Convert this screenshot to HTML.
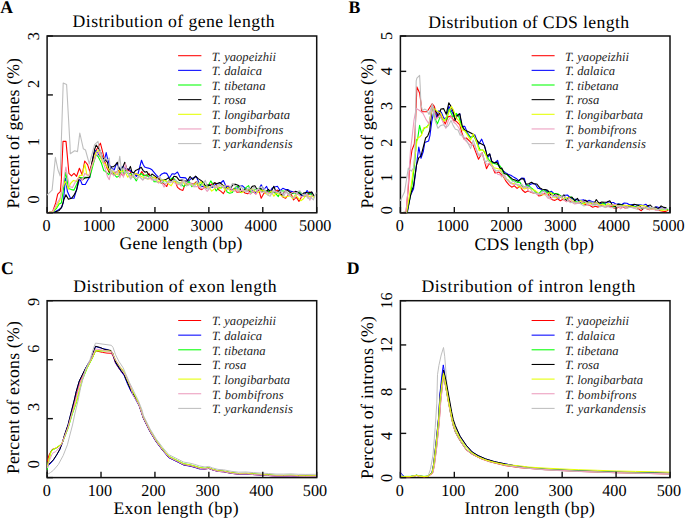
<!DOCTYPE html><html><head><meta charset="utf-8"><style>html,body{margin:0;padding:0;background:#fff;}svg{display:block}text{font-family:"Liberation Serif",serif;text-rendering:geometricPrecision;}</style></head><body>
<svg width="685" height="519" viewBox="0 0 685 519">
<rect width="685" height="519" fill="#fff"/>
<text x="0.2" y="12.7" font-size="17.7" font-weight="bold">A</text>
<text x="348.4" y="12.6" font-size="17.7" font-weight="bold">B</text>
<text x="1.0" y="273.8" font-size="17.7" font-weight="bold">C</text>
<text x="346.8" y="273.5" font-size="17.7" font-weight="bold">D</text>
<text x="72.6" y="27.4" font-size="17.7" textLength="202.00000000000003" lengthAdjust="spacing">Distribution of gene length</text>
<text x="428.2" y="27.6" font-size="17.7" textLength="200.8" lengthAdjust="spacing">Distribution of CDS length</text>
<text x="73.2" y="292.4" font-size="17.7" textLength="203.40000000000003" lengthAdjust="spacing">Distribution of exon length</text>
<text x="421.4" y="292.2" font-size="17.7" textLength="214.0" lengthAdjust="spacing">Distribution of intron length</text>
<text x="119.6" y="248.9" font-size="17.7" textLength="122.80000000000001" lengthAdjust="spacing">Gene length (bp)</text>
<text x="474.6" y="249.5" font-size="17.7" textLength="119.29999999999995" lengthAdjust="spacing">CDS length (bp)</text>
<text x="113.4" y="514.1" font-size="17.7" textLength="125.19999999999999" lengthAdjust="spacing">Exon length (bp)</text>
<text x="464.4" y="514.1" font-size="17.7" textLength="130.5" lengthAdjust="spacing">Intron length (bp)</text>
<text transform="translate(19.3,208.6) rotate(-90)" font-size="17.7" textLength="150.6" lengthAdjust="spacing">Percent of genes (%)</text>
<text transform="translate(373,208.4) rotate(-90)" font-size="17.7" textLength="150.3" lengthAdjust="spacing">Percent of genes (%)</text>
<text transform="translate(19.1,474.0) rotate(-90)" font-size="17.7" textLength="152.8" lengthAdjust="spacing">Percent of exons (%)</text>
<text transform="translate(373,479.0) rotate(-90)" font-size="17.7" textLength="163.0" lengthAdjust="spacing">Percent of introns (%)</text>
<rect x="47.1" y="36" width="269.59999999999997" height="176.8" fill="none" stroke="#111" stroke-width="1.5"/>
<rect x="400.4" y="36" width="269.6" height="176.8" fill="none" stroke="#111" stroke-width="1.5"/>
<rect x="47.1" y="300.7" width="269.59999999999997" height="176.90000000000003" fill="none" stroke="#111" stroke-width="1.5"/>
<rect x="400.4" y="300.7" width="269.6" height="176.90000000000003" fill="none" stroke="#111" stroke-width="1.5"/>
<clipPath id="clipA"><rect x="46.7" y="35.6" width="270.4" height="177.60000000000002"/></clipPath>
<g clip-path="url(#clipA)" fill="none" stroke-width="1.1" stroke-linejoin="round">
<polyline points="47.0,212.8 52.6,211.8 55.7,202.9 57.7,194.2 60.3,191.6 61.3,180.4 63.0,141.4 66.0,141.4 68.9,173.3 71.5,175.8 74.0,173.3 76.6,176.3 79.4,168.2 82.2,174.8 84.7,161.0 87.6,164.6 89.8,171.6 93.7,155.3 96.6,149.5 100.4,143.2 103.3,154.3 105.0,162.3 107.0,168.0 109.0,172.0 111.0,173.5 113.0,174.0 115.0,172.5 117.3,171.6 118.6,170.4 120.4,173.5 123.5,175.9 125.4,170.0 127.8,170.4 130.0,171.0 132.0,176.0 134.5,174.0 136.3,173.5 139.0,176.5 141.8,171.6 144.0,175.0 146.8,175.9 149.0,173.5 151.7,179.0 153.2,177.2 155.9,178.3 158.6,177.5 161.3,183.2 164.0,183.7 166.7,186.5 169.4,180.1 172.1,179.3 174.8,180.3 177.5,187.4 180.2,189.5 182.9,190.4 185.6,182.9 188.3,184.8 191.0,183.3 193.7,184.2 196.4,181.7 199.1,188.4 201.8,189.7 204.5,187.4 207.2,184.9 209.9,185.5 212.6,183.5 215.3,183.0 218.0,189.3 220.7,191.1 223.4,193.6 226.1,188.7 228.8,188.4 231.5,190.2 234.2,188.5 236.9,192.3 239.6,191.9 242.3,190.4 245.0,193.0 247.7,193.8 250.4,190.5 253.1,191.5 255.8,193.9 258.5,188.8 261.2,198.3 263.9,193.2 266.6,191.7 269.3,191.4 272.0,191.7 274.7,192.4 277.4,190.0 280.1,193.4 282.8,196.9 285.5,198.3 288.2,195.0 290.9,193.4 293.6,200.0 296.3,197.1 299.0,201.4 301.7,196.4 304.4,195.8 307.1,196.2 309.8,191.9 312.5,194.7" stroke="#ff0000"/>
<polyline points="47.0,212.8 54.1,212.3 58.2,210.0 61.3,208.0 63.3,202.9 65.4,178.4 67.4,191.6 70.5,198.3 74.0,198.3 76.6,189.6 79.7,178.4 82.2,184.5 85.3,184.5 88.4,179.0 89.8,177.4 93.7,154.3 95.6,150.4 98.5,154.3 101.4,158.1 104.3,161.0 106.2,152.5 107.5,158.6 109.5,165.0 111.2,167.3 113.0,169.1 114.3,169.8 115.8,165.4 117.3,163.0 118.6,167.3 120.1,169.8 121.7,167.3 122.9,166.7 124.8,168.5 127.8,169.1 129.5,169.8 132.0,172.0 134.4,173.5 136.3,176.5 138.1,173.5 140.0,166.0 141.5,160.2 143.0,164.2 144.6,167.0 147.4,167.9 149.8,168.5 152.0,169.8 155.9,174.7 158.6,177.4 161.3,174.3 164.0,172.9 166.7,173.4 169.4,178.0 172.1,173.7 174.8,174.1 177.5,172.0 180.2,177.5 182.9,177.6 185.6,177.9 188.3,181.4 191.0,178.7 193.7,177.7 196.4,176.8 199.1,183.2 201.8,186.7 204.5,185.8 207.2,185.2 209.9,185.1 212.6,187.4 215.3,184.5 218.0,183.3 220.7,183.0 223.4,180.5 226.1,186.6 228.8,186.3 231.5,189.5 234.2,189.3 236.9,188.4 239.6,186.4 242.3,185.7 245.0,188.2 247.7,189.7 250.4,189.1 253.1,191.0 255.8,192.9 258.5,189.7 261.2,184.8 263.9,189.5 266.6,186.4 269.3,193.1 272.0,188.3 274.7,187.0 277.4,186.3 280.1,190.6 282.8,188.3 285.5,189.6 288.2,189.6 290.9,191.4 293.6,191.7 296.3,193.5 299.0,191.3 301.7,195.9 304.4,194.8 307.1,190.5 309.8,194.3 312.5,192.3" stroke="#0000ff"/>
<polyline points="47.0,212.8 53.1,211.8 56.7,208.0 59.2,203.9 61.3,202.9 63.3,190.6 65.6,172.2 66.9,178.4 68.4,188.6 71.5,189.6 74.0,190.1 76.6,184.5 79.7,177.3 82.2,177.9 85.0,177.4 89.8,177.4 93.0,165.0 96.1,154.3 98.5,157.2 101.4,163.0 103.8,170.7 105.0,171.0 108.7,174.7 111.2,170.4 113.6,174.1 116.7,177.2 119.2,175.9 121.7,167.9 123.5,173.5 125.5,170.5 127.8,173.5 130.7,173.5 132.5,175.5 134.4,177.8 136.3,180.9 138.7,176.0 141.2,173.5 143.7,175.9 146.5,174.7 148.6,177.2 150.5,175.5 152.0,177.0 154.1,181.8 156.8,181.8 159.5,182.4 162.2,182.9 164.9,180.0 167.6,182.5 170.3,179.5 173.0,177.5 175.7,180.6 178.4,182.4 181.1,183.9 183.8,186.7 186.5,184.0 189.2,181.5 191.9,186.7 194.6,184.2 197.3,182.1 200.0,185.8 202.7,182.1 205.4,185.9 208.1,185.9 210.8,180.9 213.5,185.4 216.2,191.0 218.9,187.4 221.6,187.9 224.3,185.8 227.0,191.9 229.7,193.3 232.4,192.5 235.1,187.6 237.8,186.0 240.5,192.5 243.2,190.2 245.9,187.6 248.6,185.6 251.3,193.3 254.0,190.3 256.7,188.9 259.4,188.4 262.1,191.6 264.8,191.1 267.5,190.6 270.2,192.2 272.9,192.2 275.6,193.3 278.3,196.6 281.0,190.9 283.7,191.0 286.4,191.8 289.1,194.2 291.8,193.7 294.5,192.7 297.2,194.1 299.9,192.0 302.6,194.7 305.3,196.4 308.0,193.6 310.7,193.7 313.4,196.4" stroke="#00ff00"/>
<polyline points="47.0,212.8 54.6,212.3 59.2,210.5 61.8,206.9 63.8,199.8 65.9,194.7 68.4,199.3 71.5,198.3 74.0,195.2 76.6,190.1 79.1,177.3 82.2,179.9 85.3,177.9 89.3,177.4 91.8,163.9 94.6,149.5 96.1,145.1 98.0,147.5 100.4,151.4 102.8,158.1 105.0,159.3 107.5,162.3 109.3,172.2 111.2,166.7 113.6,166.7 115.5,164.8 117.3,162.3 119.2,168.5 120.4,170.4 122.3,168.5 124.8,162.3 126.6,168.5 128.5,170.0 130.4,166.4 131.9,172.2 133.8,172.8 135.6,170.4 138.7,169.1 141.2,167.3 143.0,170.4 144.9,172.2 146.8,171.6 148.6,174.7 150.5,175.9 152.0,174.0 155.0,176.1 157.7,178.3 160.4,180.1 163.1,180.4 165.8,179.6 168.5,177.7 171.2,181.5 173.9,176.3 176.6,176.9 179.3,180.4 182.0,180.1 184.7,181.1 187.4,180.9 190.1,176.5 192.8,179.7 195.5,176.1 198.2,178.6 200.9,180.4 203.6,182.7 206.3,188.0 209.0,184.8 211.7,187.0 214.4,182.8 217.1,183.8 219.8,182.5 222.5,184.9 225.2,188.1 227.9,187.3 230.6,187.9 233.3,184.3 236.0,184.4 238.7,185.5 241.4,191.6 244.1,189.3 246.8,190.8 249.5,190.8 252.2,186.4 254.9,185.7 257.6,190.4 260.3,187.9 263.0,190.9 265.7,192.3 268.4,189.4 271.1,192.1 273.8,186.3 276.5,193.2 279.2,190.4 281.9,195.4 284.6,191.7 287.3,190.0 290.0,192.4 292.7,193.0 295.4,191.4 298.1,192.0 300.8,195.1 303.5,193.1 306.2,192.5 308.9,193.0 311.6,191.9 314.3,196.2" stroke="#000000"/>
<polyline points="47.0,212.8 53.0,211.8 57.0,206.0 60.0,200.0 62.3,187.6 65.4,181.4 68.4,189.1 70.5,183.5 73.5,180.4 76.6,181.4 79.7,175.3 82.2,175.5 84.8,164.1 86.9,174.7 88.9,175.5 92.7,163.9 96.1,151.9 98.5,150.4 100.4,157.2 103.0,163.0 105.0,163.6 108.1,168.5 109.5,171.0 111.2,170.4 114.9,173.5 117.3,174.7 119.2,170.4 121.7,172.2 124.0,169.8 127.8,177.2 129.7,174.7 132.0,177.5 135.0,173.5 138.0,174.7 140.6,176.0 143.0,177.2 145.5,178.4 148.6,179.0 152.0,178.0 155.0,177.3 157.7,181.9 160.4,179.8 163.1,180.1 165.8,180.8 168.5,183.9 171.2,185.8 173.9,180.7 176.6,182.9 179.3,183.8 182.0,181.4 184.7,184.2 187.4,184.1 190.1,184.0 192.8,185.7 195.5,183.4 198.2,185.3 200.9,181.7 203.6,185.4 206.3,187.4 209.0,187.0 211.7,191.1 214.4,189.0 217.1,185.5 219.8,188.8 222.5,185.5 225.2,190.4 227.9,187.1 230.6,191.7 233.3,189.7 236.0,189.7 238.7,189.4 241.4,192.7 244.1,191.6 246.8,189.4 249.5,190.2 252.2,189.0 254.9,191.1 257.6,192.7 260.3,190.5 263.0,190.0 265.7,193.6 268.4,194.2 271.1,191.0 273.8,196.3 276.5,192.8 279.2,194.4 281.9,196.1 284.6,197.3 287.3,196.5 290.0,195.7 292.7,198.6 295.4,194.6 298.1,197.8 300.8,200.7 303.5,198.8 306.2,195.0 308.9,196.4 311.6,196.1 314.3,197.5" stroke="#e5ff00"/>
<polyline points="47.0,212.8 52.6,211.8 56.2,204.9 60.3,197.8 63.0,185.0 65.9,167.1 67.4,176.3 69.4,186.5 72.5,187.6 75.6,181.4 79.0,178.0 82.2,180.4 84.8,173.3 87.0,175.0 89.0,176.0 92.0,165.0 96.6,154.3 99.5,151.4 102.4,159.1 105.0,167.9 107.5,176.5 109.3,179.6 111.2,170.4 113.6,175.9 115.5,174.5 117.3,171.0 119.8,177.8 121.7,172.2 123.5,177.2 125.4,163.6 127.2,171.0 129.5,175.0 130.7,179.0 133.0,175.0 136.5,179.0 139.0,176.0 142.5,180.0 145.0,177.5 148.0,179.0 150.0,178.0 152.0,180.0 155.9,179.9 158.6,183.1 161.3,181.8 164.0,187.1 166.7,182.5 169.4,181.1 172.1,182.0 174.8,182.9 177.5,184.8 180.2,183.9 182.9,180.8 185.6,182.3 188.3,184.1 191.0,183.6 193.7,186.8 196.4,186.5 199.1,186.7 201.8,188.8 204.5,187.8 207.2,191.3 209.9,188.2 212.6,185.4 215.3,188.0 218.0,186.9 220.7,185.0 223.4,187.8 226.1,185.5 228.8,185.5 231.5,190.0 234.2,191.1 236.9,190.7 239.6,190.9 242.3,190.4 245.0,190.6 247.7,191.1 250.4,194.3 253.1,190.9 255.8,194.5 258.5,188.5 261.2,192.4 263.9,191.8 266.6,191.9 269.3,193.6 272.0,194.0 274.7,190.5 277.4,192.5 280.1,193.0 282.8,194.0 285.5,190.8 288.2,195.3 290.9,193.3 293.6,192.0 296.3,193.0 299.0,195.0 301.7,196.9 304.4,195.4 307.1,194.1 309.8,200.2 312.5,194.7" stroke="#ec9cbe"/>
<polyline points="47.0,195.2 52.1,190.1 55.4,157.3 58.0,170.0 60.2,176.0 61.2,145.0 63.2,83.1 66.6,84.5 70.0,145.0 70.3,153.7 74.6,150.8 77.5,151.6 79.8,133.0 83.3,148.7 85.5,150.0 89.3,163.9 94.6,144.6 98.0,141.3 99.0,146.6 101.4,154.3 103.3,162.0 105.0,158.0 107.2,160.0 109.3,158.0 110.6,174.7 112.4,169.1 114.5,172.0 117.3,172.2 119.8,156.2 121.4,170.4 123.5,167.9 125.4,173.5 127.0,171.0 129.0,176.0 130.7,179.0 133.0,174.0 135.0,178.0 137.0,179.0 139.0,176.0 141.0,178.0 143.0,180.0 145.0,177.0 147.5,179.0 150.0,176.0 152.0,178.0 154.1,180.3 156.8,179.6 159.5,176.2 162.2,180.8 164.9,183.7 167.6,182.1 170.3,182.8 173.0,180.8 175.7,180.1 178.4,182.8 181.1,186.2 183.8,179.8 186.5,186.0 189.2,184.7 191.9,183.7 194.6,186.6 197.3,181.0 200.0,187.1 202.7,184.7 205.4,180.4 208.1,189.7 210.8,186.4 213.5,185.2 216.2,187.4 218.9,184.3 221.6,186.5 224.3,186.2 227.0,190.0 229.7,188.7 232.4,183.4 235.1,185.6 237.8,190.5 240.5,186.1 243.2,189.2 245.9,192.4 248.6,187.4 251.3,191.0 254.0,187.1 256.7,190.1 259.4,187.8 262.1,186.4 264.8,189.7 267.5,194.9 270.2,196.2 272.9,190.8 275.6,192.0 278.3,192.5 281.0,190.8 283.7,196.3 286.4,190.9 289.1,195.0 291.8,197.1 294.5,198.1 297.2,192.2 299.9,190.8 302.6,194.5 305.3,194.6 308.0,198.4 310.7,197.4 313.4,199.8 316.1,192.6" stroke="#bebebe"/>
</g>
<clipPath id="clipB"><rect x="400.0" y="35.6" width="270.40000000000003" height="177.60000000000002"/></clipPath>
<g clip-path="url(#clipB)" fill="none" stroke-width="1.1" stroke-linejoin="round">
<polyline points="400.3,212.8 406.0,212.8 408.3,187.6 409.8,165.1 412.0,150.0 414.3,144.0 415.0,135.0 416.9,86.9 419.6,92.9 420.9,102.4 421.6,111.8 425.0,111.8 427.0,111.8 432.2,103.8 434.4,106.4 437.0,117.8 439.6,113.4 442.0,118.0 445.3,123.9 448.0,116.9 451.0,116.0 453.6,120.4 456.3,121.3 459.8,124.8 462.0,133.0 464.0,139.0 466.4,138.0 470.6,142.2 473.2,145.4 478.5,159.2 482.2,152.8 486.5,168.7 489.1,163.4 492.0,166.0 495.0,173.0 499.0,172.0 500.9,174.1 503.6,176.9 506.3,181.7 509.0,184.9 511.7,187.2 514.4,185.8 517.1,188.4 519.8,186.2 522.5,190.3 525.2,192.5 527.9,190.9 530.6,192.1 533.3,192.9 536.0,192.7 538.7,195.9 541.4,195.4 544.1,193.8 546.8,191.7 549.5,196.4 552.2,199.7 554.9,200.4 557.6,198.7 560.3,200.7 563.0,199.2 565.7,201.0 568.4,200.4 571.1,202.2 573.8,201.7 576.5,203.5 579.2,202.8 581.9,202.3 584.6,204.4 587.3,204.8 590.0,205.5 592.7,207.2 595.4,206.3 598.1,207.1 600.8,205.7 603.5,206.2 606.2,206.8 608.9,206.2 611.6,206.3 614.3,208.2 617.0,208.0 619.7,206.5 622.4,207.1 625.1,208.0 627.8,207.7 630.5,206.2 633.2,207.3 635.9,206.4 638.6,209.0 641.3,210.7 644.0,207.7 646.7,208.7 649.4,209.7 652.1,208.7 654.8,208.7 657.5,209.8 660.2,210.6 662.9,211.2 665.6,211.6 668.3,210.1" stroke="#ff0000"/>
<polyline points="400.3,212.8 407.5,212.0 410.5,195.2 413.5,189.1 416.5,165.1 418.8,147.0 421.0,158.3 423.3,151.5 424.8,142.5 428.6,141.0 430.0,135.3 431.8,121.3 433.9,110.8 436.6,116.9 438.8,110.8 441.4,112.5 444.0,118.6 446.6,117.8 448.8,106.4 451.9,111.6 454.1,116.0 457.1,115.1 459.8,113.8 461.6,126.4 464.8,126.4 467.4,132.7 470.6,137.5 474.8,134.8 478.5,144.4 481.7,139.1 485.4,148.6 487.5,158.1 489.7,153.9 491.8,162.4 494.5,163.0 497.6,160.3 499.7,167.7 500.0,167.7 502.7,170.4 505.4,172.7 508.1,174.3 510.8,175.3 513.5,176.9 516.2,178.4 518.9,180.8 521.6,178.1 524.3,178.4 527.0,188.1 529.7,184.7 532.4,183.5 535.1,183.7 537.8,188.2 540.5,188.9 543.2,191.6 545.9,189.9 548.6,192.7 551.3,191.2 554.0,193.6 556.7,197.4 559.4,197.9 562.1,196.0 564.8,195.2 567.5,195.0 570.2,197.8 572.9,199.1 575.6,199.4 578.3,200.2 581.0,200.2 583.7,199.8 586.4,201.7 589.1,200.2 591.8,201.6 594.5,202.2 597.2,203.3 599.9,203.2 602.6,203.9 605.3,203.2 608.0,201.7 610.7,202.2 613.4,202.5 616.1,204.2 618.8,203.7 621.5,204.8 624.2,203.0 626.9,203.3 629.6,204.8 632.3,204.5 635.0,206.8 637.7,205.1 640.4,204.8 643.1,205.5 645.8,204.2 648.5,206.8 651.2,208.0 653.9,207.7 656.6,206.8 659.3,207.8 662.0,207.6 664.7,208.8 667.4,209.2" stroke="#0000ff"/>
<polyline points="400.3,212.8 407.0,212.3 409.5,200.0 412.0,185.0 414.5,165.0 416.5,139.5 417.5,140.0 419.6,125.3 421.6,133.4 424.3,128.0 427.0,126.7 429.0,124.0 430.0,118.6 432.4,105.1 434.4,116.9 437.4,123.9 440.1,116.9 443.6,120.4 446.6,119.5 449.3,109.0 452.8,116.9 456.3,113.4 458.9,116.9 462.0,127.0 466.4,132.7 470.6,138.0 474.0,136.0 477.0,143.0 480.1,149.7 483.0,150.0 486.0,155.0 489.0,160.0 492.0,163.0 496.0,164.0 499.7,165.6 500.9,167.4 503.6,173.2 506.3,174.0 509.0,176.9 511.7,180.0 514.4,180.7 517.1,182.4 519.8,182.1 522.5,186.6 525.2,187.1 527.9,184.8 530.6,187.5 533.3,189.5 536.0,192.7 538.7,193.8 541.4,190.9 544.1,189.8 546.8,192.6 549.5,192.1 552.2,193.5 554.9,193.5 557.6,193.7 560.3,195.4 563.0,198.7 565.7,199.7 568.4,197.8 571.1,196.9 573.8,199.2 576.5,202.1 579.2,202.0 581.9,203.4 584.6,202.4 587.3,203.3 590.0,202.0 592.7,204.9 595.4,204.3 598.1,203.6 600.8,205.0 603.5,202.8 606.2,205.4 608.9,205.2 611.6,205.0 614.3,207.4 617.0,204.5 619.7,204.2 622.4,205.3 625.1,206.5 627.8,206.8 630.5,205.8 633.2,206.3 635.9,206.9 638.6,205.3 641.3,208.3 644.0,207.2 646.7,208.4 649.4,208.7 652.1,207.4 654.8,208.7 657.5,209.8 660.2,208.9 662.9,209.0 665.6,209.7 668.3,209.4" stroke="#00ff00"/>
<polyline points="400.3,212.8 406.8,213.3 409.0,202.7 411.3,192.1 413.5,186.1 416.5,165.1 418.8,157.6 421.0,156.0 424.1,144.0 425.6,138.0 427.8,135.8 429.7,130.7 432.2,106.4 435.3,109.9 438.3,116.9 440.9,109.0 443.6,108.6 446.2,114.3 448.8,102.9 451.0,106.4 453.2,111.6 455.0,120.4 457.1,116.0 459.8,113.8 462.4,126.5 464.8,130.1 468.5,131.7 473.2,134.3 475.9,139.1 479.1,142.8 484.4,145.4 487.0,156.0 489.7,153.9 491.8,161.3 494.4,162.9 497.1,162.4 500.3,168.7 501.8,168.0 504.5,173.8 507.2,174.3 509.9,176.9 512.6,179.2 515.3,180.0 518.0,181.2 520.7,179.0 523.4,178.7 526.1,184.2 528.8,183.7 531.5,182.3 534.2,184.0 536.9,184.0 539.6,187.6 542.3,189.3 545.0,189.5 547.7,190.3 550.4,194.4 553.1,195.9 555.8,194.0 558.5,195.0 561.2,197.1 563.9,194.9 566.6,200.8 569.3,197.2 572.0,197.2 574.7,200.8 577.4,198.3 580.1,203.0 582.8,201.7 585.5,200.3 588.2,202.3 590.9,202.3 593.6,204.2 596.3,199.6 599.0,203.3 601.7,202.0 604.4,202.3 607.1,202.0 609.8,200.8 612.5,205.3 615.2,206.5 617.9,204.4 620.6,204.7 623.3,205.0 626.0,206.3 628.7,205.4 631.4,205.8 634.1,204.3 636.8,204.7 639.5,205.8 642.2,208.9 644.9,207.9 647.6,205.7 650.3,205.0 653.0,208.1 655.7,207.1 658.4,208.9 661.1,205.9 663.8,207.4 666.5,207.9" stroke="#000000"/>
<polyline points="400.3,212.8 406.8,212.0 409.0,198.2 411.3,184.6 413.5,168.0 415.8,150.0 417.3,138.2 419.6,137.0 421.6,135.0 423.6,128.0 427.0,127.4 429.0,124.0 432.4,107.5 434.5,109.0 437.9,111.6 440.5,113.0 444.0,121.3 447.0,116.0 451.5,106.4 453.5,110.0 456.3,117.8 459.0,121.0 462.4,130.0 465.0,131.0 470.6,140.1 473.2,133.8 476.0,140.0 479.1,150.7 482.2,149.7 485.0,152.0 487.5,160.3 490.7,162.4 493.9,167.7 498.1,168.7 500.0,169.3 502.7,174.6 505.4,178.9 508.1,179.7 510.8,183.2 513.5,183.6 516.2,184.2 518.9,186.9 521.6,187.6 524.3,188.9 527.0,188.1 529.7,188.2 532.4,189.8 535.1,190.3 537.8,192.7 540.5,194.7 543.2,194.8 545.9,194.6 548.6,192.9 551.3,193.1 554.0,197.5 556.7,198.0 559.4,195.5 562.1,198.4 564.8,198.4 567.5,197.4 570.2,198.7 572.9,201.6 575.6,202.7 578.3,202.7 581.0,200.6 583.7,204.2 586.4,202.9 589.1,203.6 591.8,203.8 594.5,202.9 597.2,203.0 599.9,204.7 602.6,204.2 605.3,206.9 608.0,203.4 610.7,205.3 613.4,205.3 616.1,205.4 618.8,206.1 621.5,206.2 624.2,205.4 626.9,205.6 629.6,205.6 632.3,206.6 635.0,207.4 637.7,207.9 640.4,205.4 643.1,205.7 645.8,206.3 648.5,208.6 651.2,209.4 653.9,208.8 656.6,209.4 659.3,209.7 662.0,210.5 664.7,209.9 667.4,210.1" stroke="#e5ff00"/>
<polyline points="400.3,212.8 406.0,212.8 407.5,195.2 409.0,172.6 410.5,150.0 412.0,138.0 414.0,120.0 416.2,108.5 419.6,110.5 422.9,113.2 426.3,119.9 429.0,124.0 432.4,105.1 434.5,112.0 436.1,119.5 439.6,115.0 442.0,120.0 445.8,128.3 448.5,120.0 451.0,116.5 453.6,122.0 456.0,124.0 459.0,128.0 462.0,136.0 465.0,140.0 470.0,145.0 474.0,144.0 478.0,155.0 482.0,153.0 486.0,164.0 490.0,164.0 495.0,171.0 497.7,174.2 500.4,175.1 501.8,176.8 504.5,174.9 507.2,180.0 509.9,183.0 512.6,184.2 515.3,184.5 518.0,184.4 520.7,185.9 523.4,188.0 526.1,186.4 528.8,190.9 531.5,192.3 534.2,192.3 536.9,194.2 539.6,194.9 542.3,193.6 545.0,194.2 547.7,198.0 550.4,199.1 553.1,196.6 555.8,194.7 558.5,196.2 561.2,197.2 563.9,199.8 566.6,201.8 569.3,197.8 572.0,202.2 574.7,204.0 577.4,203.4 580.1,203.4 582.8,201.7 585.5,201.8 588.2,204.9 590.9,205.0 593.6,204.0 596.3,203.4 599.0,205.5 601.7,206.3 604.4,206.9 607.1,205.5 609.8,205.8 612.5,205.0 615.2,204.2 617.9,205.9 620.6,208.9 623.3,207.0 626.0,206.0 628.7,207.2 631.4,207.2 634.1,208.1 636.8,207.0 639.5,207.3 642.2,207.2 644.9,207.5 647.6,208.9 650.3,209.4 653.0,208.8 655.7,210.4 658.4,210.3 661.1,208.2 663.8,208.8 666.5,210.3" stroke="#ec9cbe"/>
<polyline points="400.3,201.0 404.5,192.1 408.3,168.1 411.3,171.1 413.5,168.1 415.0,150.0 416.2,80.8 416.9,78.1 419.6,75.4 420.2,86.2 420.9,103.7 422.3,110.5 425.0,109.1 427.0,110.5 429.0,114.5 432.4,103.7 434.4,118.6 437.9,128.3 440.5,125.6 443.6,124.8 446.2,127.4 448.4,125.6 451.0,120.4 453.2,125.6 455.4,129.2 458.0,130.0 460.2,135.3 462.1,134.8 465.8,139.1 470.6,148.6 473.2,140.1 476.0,148.0 479.1,156.0 482.0,154.0 485.4,162.4 488.0,160.0 491.0,165.0 496.0,170.8 498.7,170.5 500.0,171.0 502.7,174.4 505.4,178.7 508.1,180.2 510.8,183.2 513.5,180.9 516.2,184.3 518.9,185.5 521.6,184.2 524.3,187.1 527.0,186.7 529.7,187.3 532.4,192.0 535.1,193.5 537.8,193.4 540.5,194.2 543.2,190.9 545.9,192.8 548.6,197.4 551.3,195.2 554.0,196.7 556.7,195.9 559.4,197.7 562.1,195.7 564.8,196.8 567.5,200.0 570.2,202.6 572.9,201.9 575.6,203.0 578.3,202.0 581.0,204.0 583.7,205.9 586.4,205.2 589.1,202.3 591.8,202.1 594.5,205.2 597.2,204.7 599.9,207.1 602.6,206.0 605.3,207.6 608.0,206.6 610.7,207.7 613.4,207.7 616.1,207.7 618.8,206.3 621.5,205.9 624.2,206.8 626.9,208.3 629.6,207.3 632.3,207.7 635.0,208.6 637.7,209.5 640.4,207.9 643.1,208.2 645.8,208.4 648.5,208.0 651.2,207.3 653.9,207.8 656.6,209.1 659.3,209.6 662.0,207.7 664.7,209.5 667.4,208.6" stroke="#bebebe"/>
</g>
<clipPath id="clipC"><rect x="46.7" y="300.3" width="270.4" height="177.70000000000005"/></clipPath>
<g clip-path="url(#clipC)" fill="none" stroke-width="1.0" stroke-linejoin="round">
<polyline points="47.3,461.5 49.0,455.0 52.0,449.5 55.0,448.5 58.0,447.0 62.0,443.3 68.1,427.0 74.3,403.0 79.3,384.0 85.4,370.0 92.4,357.8 95.5,350.8 102.4,352.4 107.0,353.1 111.4,353.3 113.0,355.9 115.6,363.3 119.8,369.7 124.1,375.0 127.3,382.4 131.0,390.9 133.6,395.0 139.1,405.4 143.4,418.1 149.7,430.9 156.1,441.5 162.5,450.0 168.8,457.4 177.3,461.6 183.7,464.8 190.0,465.9 194.3,467.0 199.3,468.6 205.0,469.0 208.7,468.4 212.4,469.9 218.0,471.4 223.6,471.8 231.1,473.3 238.6,474.2 246.1,474.0 253.6,474.6 261.0,475.1 268.5,475.5 276.0,476.1 283.5,476.1 291.0,475.9 298.4,476.3 305.9,476.4 316.5,476.3" stroke="#ff0000"/>
<polyline points="47.3,466.2 50.0,464.0 53.3,460.3 56.6,455.2 59.9,449.4 62.4,442.8 64.5,435.3 68.1,424.5 71.2,412.0 74.3,400.0 76.2,391.5 79.3,381.0 85.4,368.6 91.6,357.8 95.5,346.5 102.4,348.5 107.0,349.5 111.0,351.0 113.0,355.0 115.6,363.0 119.8,369.5 124.1,375.5 127.3,383.5 131.0,391.5 133.6,396.0 139.1,405.7 143.4,418.4 149.7,431.2 156.1,441.8 162.5,450.3 168.8,457.7 177.3,461.9 183.7,465.1 190.0,466.2 194.3,467.3 199.3,468.9 205.0,469.0 208.7,468.4 212.4,469.9 218.0,471.4 223.6,471.8 231.1,473.3 238.6,474.2 246.1,474.0 253.6,474.6 261.0,475.1 268.5,475.5 276.0,476.1 283.5,476.1 291.0,475.9 298.4,476.3 305.9,476.4 316.5,476.3" stroke="#0000ff"/>
<polyline points="47.3,469.8 48.5,462.0 50.5,453.0 52.0,450.0 55.8,448.3 59.1,445.8 62.4,442.8 68.0,428.5 72.0,415.0 76.2,403.0 82.3,380.0 87.0,368.5 92.4,358.0 95.5,350.8 100.9,350.8 107.0,350.8 110.9,350.8 112.6,353.0 115.6,360.8 119.8,367.5 123.6,372.0 126.2,378.5 129.4,385.5 132.6,392.0 135.5,397.5 139.1,404.3 143.4,417.0 149.7,429.8 156.1,440.4 162.5,448.9 168.8,456.3 177.3,460.5 183.7,463.7 190.0,464.8 194.3,465.9 199.3,467.5 205.0,468.3 208.7,467.7 212.4,469.2 218.0,470.7 223.6,471.1 231.1,472.6 238.6,473.5 246.1,473.3 253.6,473.9 261.0,474.4 268.5,474.8 276.0,475.4 283.5,475.4 291.0,475.2 298.4,475.6 305.9,475.7 316.5,475.6" stroke="#00ff00"/>
<polyline points="47.3,465.0 50.0,463.2 53.3,459.9 56.6,454.9 59.9,449.1 62.4,442.5 64.5,435.0 68.1,424.7 71.2,412.3 74.3,400.0 76.2,391.7 79.3,380.9 85.4,368.6 91.6,357.8 95.5,346.2 100.9,347.7 104.0,349.3 111.0,350.5 113.0,354.0 115.6,362.0 119.8,368.8 124.1,374.5 127.3,382.0 131.0,390.4 133.6,394.8 139.1,405.2 143.4,417.9 149.7,430.7 156.1,441.3 162.5,449.8 168.8,457.2 177.3,461.4 183.7,464.6 190.0,465.7 194.3,466.8 199.3,468.4 205.0,468.6 208.7,468.0 212.4,469.5 218.0,471.0 223.6,471.4 231.1,472.9 238.6,473.8 246.1,473.6 253.6,474.2 261.0,474.7 268.5,475.1 276.0,475.7 283.5,475.7 291.0,475.5 298.4,475.9 305.9,476.0 316.5,475.9" stroke="#000000"/>
<polyline points="47.3,466.5 49.0,459.0 51.0,452.0 53.0,449.5 55.8,448.0 59.1,445.8 62.0,443.3 68.0,428.0 72.0,414.0 76.2,402.5 82.3,379.4 87.0,368.0 92.4,357.8 95.5,350.8 100.9,350.8 107.0,350.8 110.8,351.1 112.4,352.7 115.6,360.1 119.8,366.5 123.6,370.8 126.2,377.1 129.4,384.5 132.6,390.9 136.0,397.5 139.1,404.4 143.4,417.1 149.7,429.9 156.1,440.5 162.5,449.0 168.8,456.4 177.3,460.6 183.7,463.8 190.0,464.9 194.3,466.0 199.3,467.6 205.0,468.3 208.7,467.7 212.4,469.2 218.0,470.7 223.6,471.1 231.1,472.6 238.6,473.5 246.1,473.3 253.6,473.9 261.0,474.4 268.5,474.8 276.0,475.4 283.5,475.4 291.0,475.2 298.4,475.6 305.9,475.7 316.5,475.6" stroke="#e5ff00"/>
<polyline points="47.3,468.0 50.0,459.0 52.5,453.2 55.8,451.6 59.0,448.0 62.0,443.5 64.0,438.0 68.0,427.0 74.0,406.0 80.0,383.0 86.0,369.0 92.0,357.0 95.5,349.0 102.0,350.0 108.0,351.0 112.0,352.0 115.0,359.0 120.0,367.0 126.0,376.5 130.0,385.0 132.7,394.5 139.1,405.2 143.4,417.9 149.7,430.7 156.1,441.3 162.5,449.8 168.8,457.2 177.3,461.4 183.7,464.6 190.0,465.7 194.3,466.8 199.3,468.4 205.0,468.9 208.7,468.3 212.4,469.8 218.0,471.3 223.6,471.7 231.1,473.2 238.6,474.1 246.1,473.9 253.6,474.5 261.0,475.0 268.5,475.4 276.0,476.0 283.5,476.0 291.0,475.8 298.4,476.2 305.9,476.3 316.5,476.2" stroke="#ec9cbe"/>
<polyline points="47.3,474.5 50.5,472.5 53.3,470.4 58.3,464.6 63.2,455.5 67.4,444.8 69.9,435.0 72.5,425.0 74.8,414.0 78.2,400.0 80.5,388.0 85.4,370.0 90.1,359.3 93.9,347.0 95.5,343.1 111.4,345.3 113.0,347.4 115.6,354.8 118.8,361.2 123.0,367.6 126.2,375.0 129.4,382.4 132.6,388.8 135.0,394.0 138.5,401.0 142.0,410.0 143.4,415.4 149.7,428.2 156.1,438.8 162.5,447.3 168.8,454.7 177.3,458.9 183.7,462.1 190.0,463.2 194.3,464.3 199.3,465.9 205.0,467.0 208.7,466.4 212.4,467.9 218.0,469.4 223.6,469.8 231.1,471.3 238.6,472.2 246.1,472.0 253.6,472.6 261.0,473.1 268.5,473.5 276.0,474.1 283.5,474.1 291.0,473.9 298.4,474.3 305.9,474.4 316.5,474.3" stroke="#bebebe"/>
</g>
<clipPath id="clipD"><rect x="400.0" y="300.3" width="270.40000000000003" height="177.70000000000005"/></clipPath>
<g clip-path="url(#clipD)" fill="none" stroke-width="1.0" stroke-linejoin="round">
<polyline points="400.3,476.6 410.0,476.6 413.0,476.2 416.6,475.3 420.0,476.2 424.0,476.6 428.0,476.3 432.0,472.7 433.6,464.6 436.0,443.5 438.5,419.3 440.0,395.0 441.8,381.0 443.5,370.0" stroke="#000000"/>
<polyline points="505.2,463.9 517.2,466.2 529.2,467.7 545.0,469.2 559.1,469.9 578.2,470.8 597.4,471.4 616.5,472.1 635.6,472.5 654.7,472.9 669.5,473.3" stroke="#000000"/>
<polyline points="400.3,472.5 402.0,474.5 404.5,476.7 410.0,476.6 413.0,476.2 416.6,475.3 420.0,476.2 424.0,476.6 428.0,476.3 432.0,472.5 433.6,464.0 436.0,443.0 438.5,418.0 440.0,393.0 441.8,376.0 443.3,364.9 445.3,378.0 447.3,390.0 449.4,402.0 451.0,411.0 452.7,419.5 454.8,425.6 460.0,436.1 466.1,445.1 472.1,451.9 478.1,455.6 485.6,458.9 494.6,461.7 505.2,463.9 517.2,466.2 529.2,467.7 545.0,469.2 559.1,469.9 578.2,470.8 597.4,471.4 616.5,472.1 635.6,472.5 654.7,472.9 669.5,473.3" stroke="#0000ff"/>
<polyline points="400.3,476.8 410.0,476.8 413.0,476.4 416.6,475.5 420.0,476.4 424.0,476.8 428.0,476.5 432.6,473.2 434.2,466.2 436.6,447.2 439.1,423.2 440.6,402.2 442.4,385.2 443.5,374.9 445.0,383.2 446.8,393.2 448.6,403.2 450.5,413.2 452.0,420.2 453.2,425.7 455.4,432.4 460.0,440.8 466.1,449.8 472.1,454.3 481.1,458.8 490.1,461.9 505.2,465.6 520.0,467.7 545.0,469.7 578.0,471.4 616.0,472.7 669.5,474.0" stroke="#ff0000"/>
<polyline points="400.3,476.4 410.0,476.4 413.0,476.0 416.6,475.1 420.0,476.0 424.0,476.4 428.0,476.1 432.4,472.8 434.0,465.8 436.4,446.8 438.9,422.8 440.4,401.8 442.2,384.8 443.5,374.5 445.0,382.8 446.8,392.8 448.6,402.8 450.5,412.8 452.0,419.8 453.2,425.3 455.4,432.0 460.0,440.4 466.1,449.4 472.1,453.9 481.1,458.4 490.1,461.5 505.2,465.2 520.0,467.3 545.0,469.3 578.0,471.0 616.0,472.3 669.5,473.6" stroke="#00ff00"/>
<polyline points="400.3,476.6 410.0,476.6 413.0,476.2 416.6,475.3 420.0,476.2 424.0,476.6 428.0,476.3 430.4,469.4 433.0,455.0 435.2,427.4 436.8,403.1 437.5,374.7 438.9,365.4 441.2,355.0 443.5,347.5 444.7,356.2 445.8,370.1 447.0,386.2 448.5,400.0 450.5,410.0 452.7,419.0 455.4,428.0 460.0,437.0 466.1,445.8 472.1,452.6 478.1,456.3 485.6,459.6 494.6,462.4 505.2,464.6 517.2,466.9 529.2,468.4 545.0,469.9 559.1,470.6 578.2,471.5 597.4,472.1 616.5,472.8 635.6,473.2 654.7,473.6 669.5,474.0" stroke="#bebebe"/>
<polyline points="443.5,370.0 446.1,381.0 448.1,392.0 450.1,403.0 451.6,411.5 453.3,419.5 455.4,425.6 460.0,436.1 466.1,445.1 472.1,451.9 478.1,455.6 485.6,458.9 494.6,461.7 505.2,463.9" stroke="#000000"/>
<polyline points="400.3,476.6 410.0,476.6 413.0,476.2 416.6,475.3 420.0,476.2 424.0,476.6 428.0,476.3 432.8,473.0 434.4,466.0 436.8,447.0 439.3,423.0 440.8,402.0 442.6,385.0 443.5,374.7 445.0,383.0 446.8,393.0 448.6,403.0 450.5,413.0 452.0,420.0 453.2,425.5 455.4,432.2 460.0,440.6 466.1,449.6 472.1,454.1 481.1,458.6 490.1,461.7 505.2,465.4 520.0,467.5 545.0,469.5 578.0,471.2 616.0,472.5 669.5,473.8" stroke="#ec9cbe"/>
<polyline points="400.3,476.6 410.0,476.6 413.0,476.2 416.6,475.3 420.0,476.2 424.0,476.6 428.0,476.3 432.0,472.8 433.6,465.0 436.0,445.0 438.5,421.0 440.0,399.0 441.8,384.0 443.5,373.5 445.3,382.0 447.2,392.5 449.0,403.0 450.8,412.0 452.4,420.5 455.4,429.5 460.0,438.5 466.1,447.5 472.1,453.0 478.0,456.8 486.0,460.0 495.0,462.5 505.2,464.6 517.2,465.6 529.2,467.1 545.0,468.1 559.1,468.8 578.2,469.7 597.4,470.3 616.5,471.0 635.6,471.4 654.7,471.8 669.5,472.2" stroke="#e5ff00"/>
</g>
<line x1="178.1" y1="55.70" x2="201.4" y2="55.70" stroke="#ff0000" stroke-width="1.05"/>
<text x="211.8" y="60.50" font-size="12.6" font-style="italic" letter-spacing="0" fill="#222">T. yaopeizhii</text>
<line x1="178.1" y1="70.35" x2="201.4" y2="70.35" stroke="#0000ff" stroke-width="1.05"/>
<text x="211.8" y="75.15" font-size="12.6" font-style="italic" letter-spacing="0" fill="#222">T. dalaica</text>
<line x1="178.1" y1="85.00" x2="201.4" y2="85.00" stroke="#00ff00" stroke-width="1.05"/>
<text x="211.8" y="89.80" font-size="12.6" font-style="italic" letter-spacing="0" fill="#222">T. tibetana</text>
<line x1="178.1" y1="99.65" x2="201.4" y2="99.65" stroke="#000000" stroke-width="1.05"/>
<text x="211.8" y="104.45" font-size="12.6" font-style="italic" letter-spacing="0" fill="#222">T. rosa</text>
<line x1="178.1" y1="114.30" x2="201.4" y2="114.30" stroke="#e5ff00" stroke-width="1.05"/>
<text x="211.8" y="119.10" font-size="12.6" font-style="italic" letter-spacing="0" fill="#222">T. longibarbata</text>
<line x1="178.1" y1="128.95" x2="201.4" y2="128.95" stroke="#ec9cbe" stroke-width="1.05"/>
<text x="211.8" y="133.75" font-size="12.6" font-style="italic" letter-spacing="0.2" fill="#222">T. bombifrons</text>
<line x1="178.1" y1="143.60" x2="201.4" y2="143.60" stroke="#bebebe" stroke-width="1.05"/>
<text x="211.8" y="148.40" font-size="12.6" font-style="italic" letter-spacing="0.15" fill="#222">T. yarkandensis</text>
<line x1="531.6" y1="55.70" x2="554.6" y2="55.70" stroke="#ff0000" stroke-width="1.05"/>
<text x="564.9" y="60.50" font-size="12.6" font-style="italic" letter-spacing="0" fill="#222">T. yaopeizhii</text>
<line x1="531.6" y1="70.35" x2="554.6" y2="70.35" stroke="#0000ff" stroke-width="1.05"/>
<text x="564.9" y="75.15" font-size="12.6" font-style="italic" letter-spacing="0" fill="#222">T. dalaica</text>
<line x1="531.6" y1="85.00" x2="554.6" y2="85.00" stroke="#00ff00" stroke-width="1.05"/>
<text x="564.9" y="89.80" font-size="12.6" font-style="italic" letter-spacing="0" fill="#222">T. tibetana</text>
<line x1="531.6" y1="99.65" x2="554.6" y2="99.65" stroke="#000000" stroke-width="1.05"/>
<text x="564.9" y="104.45" font-size="12.6" font-style="italic" letter-spacing="0" fill="#222">T. rosa</text>
<line x1="531.6" y1="114.30" x2="554.6" y2="114.30" stroke="#e5ff00" stroke-width="1.05"/>
<text x="564.9" y="119.10" font-size="12.6" font-style="italic" letter-spacing="0" fill="#222">T. longibarbata</text>
<line x1="531.6" y1="128.95" x2="554.6" y2="128.95" stroke="#ec9cbe" stroke-width="1.05"/>
<text x="564.9" y="133.75" font-size="12.6" font-style="italic" letter-spacing="0.2" fill="#222">T. bombifrons</text>
<line x1="531.6" y1="143.60" x2="554.6" y2="143.60" stroke="#bebebe" stroke-width="1.05"/>
<text x="564.9" y="148.40" font-size="12.6" font-style="italic" letter-spacing="0.15" fill="#222">T. yarkandensis</text>
<line x1="178.2" y1="320.50" x2="201.2" y2="320.50" stroke="#ff0000" stroke-width="1.05"/>
<text x="211.9" y="325.30" font-size="12.6" font-style="italic" letter-spacing="0" fill="#222">T. yaopeizhii</text>
<line x1="178.2" y1="335.15" x2="201.2" y2="335.15" stroke="#0000ff" stroke-width="1.05"/>
<text x="211.9" y="339.95" font-size="12.6" font-style="italic" letter-spacing="0" fill="#222">T. dalaica</text>
<line x1="178.2" y1="349.80" x2="201.2" y2="349.80" stroke="#00ff00" stroke-width="1.05"/>
<text x="211.9" y="354.60" font-size="12.6" font-style="italic" letter-spacing="0" fill="#222">T. tibetana</text>
<line x1="178.2" y1="364.45" x2="201.2" y2="364.45" stroke="#000000" stroke-width="1.05"/>
<text x="211.9" y="369.25" font-size="12.6" font-style="italic" letter-spacing="0" fill="#222">T. rosa</text>
<line x1="178.2" y1="379.10" x2="201.2" y2="379.10" stroke="#e5ff00" stroke-width="1.05"/>
<text x="211.9" y="383.90" font-size="12.6" font-style="italic" letter-spacing="0" fill="#222">T. longibarbata</text>
<line x1="178.2" y1="393.75" x2="201.2" y2="393.75" stroke="#ec9cbe" stroke-width="1.05"/>
<text x="211.9" y="398.55" font-size="12.6" font-style="italic" letter-spacing="0.2" fill="#222">T. bombifrons</text>
<line x1="178.2" y1="408.40" x2="201.2" y2="408.40" stroke="#bebebe" stroke-width="1.05"/>
<text x="211.9" y="413.20" font-size="12.6" font-style="italic" letter-spacing="0.15" fill="#222">T. yarkandensis</text>
<line x1="531.6" y1="320.50" x2="554.6" y2="320.50" stroke="#ff0000" stroke-width="1.05"/>
<text x="564.9" y="325.30" font-size="12.6" font-style="italic" letter-spacing="0" fill="#222">T. yaopeizhii</text>
<line x1="531.6" y1="335.15" x2="554.6" y2="335.15" stroke="#0000ff" stroke-width="1.05"/>
<text x="564.9" y="339.95" font-size="12.6" font-style="italic" letter-spacing="0" fill="#222">T. dalaica</text>
<line x1="531.6" y1="349.80" x2="554.6" y2="349.80" stroke="#00ff00" stroke-width="1.05"/>
<text x="564.9" y="354.60" font-size="12.6" font-style="italic" letter-spacing="0" fill="#222">T. tibetana</text>
<line x1="531.6" y1="364.45" x2="554.6" y2="364.45" stroke="#000000" stroke-width="1.05"/>
<text x="564.9" y="369.25" font-size="12.6" font-style="italic" letter-spacing="0" fill="#222">T. rosa</text>
<line x1="531.6" y1="379.10" x2="554.6" y2="379.10" stroke="#e5ff00" stroke-width="1.05"/>
<text x="564.9" y="383.90" font-size="12.6" font-style="italic" letter-spacing="0" fill="#222">T. longibarbata</text>
<line x1="531.6" y1="393.75" x2="554.6" y2="393.75" stroke="#ec9cbe" stroke-width="1.05"/>
<text x="564.9" y="398.55" font-size="12.6" font-style="italic" letter-spacing="0.2" fill="#222">T. bombifrons</text>
<line x1="531.6" y1="408.40" x2="554.6" y2="408.40" stroke="#bebebe" stroke-width="1.05"/>
<text x="564.9" y="413.20" font-size="12.6" font-style="italic" letter-spacing="0.15" fill="#222">T. yarkandensis</text>
<line x1="47.10" y1="212.8" x2="47.10" y2="207.0" stroke="#111" stroke-width="1.4"/>
<line x1="101.02" y1="212.8" x2="101.02" y2="207.0" stroke="#111" stroke-width="1.4"/>
<line x1="154.94" y1="212.8" x2="154.94" y2="207.0" stroke="#111" stroke-width="1.4"/>
<line x1="208.86" y1="212.8" x2="208.86" y2="207.0" stroke="#111" stroke-width="1.4"/>
<line x1="262.78" y1="212.8" x2="262.78" y2="207.0" stroke="#111" stroke-width="1.4"/>
<line x1="316.70" y1="212.8" x2="316.70" y2="207.0" stroke="#111" stroke-width="1.4"/>
<line x1="47.1" y1="212.80" x2="52.9" y2="212.80" stroke="#111" stroke-width="1.4"/>
<line x1="47.1" y1="153.87" x2="52.9" y2="153.87" stroke="#111" stroke-width="1.4"/>
<line x1="47.1" y1="94.93" x2="52.9" y2="94.93" stroke="#111" stroke-width="1.4"/>
<line x1="47.1" y1="36.00" x2="52.9" y2="36.00" stroke="#111" stroke-width="1.4"/>
<line x1="400.40" y1="212.8" x2="400.40" y2="207.0" stroke="#111" stroke-width="1.4"/>
<line x1="454.32" y1="212.8" x2="454.32" y2="207.0" stroke="#111" stroke-width="1.4"/>
<line x1="508.24" y1="212.8" x2="508.24" y2="207.0" stroke="#111" stroke-width="1.4"/>
<line x1="562.16" y1="212.8" x2="562.16" y2="207.0" stroke="#111" stroke-width="1.4"/>
<line x1="616.08" y1="212.8" x2="616.08" y2="207.0" stroke="#111" stroke-width="1.4"/>
<line x1="670.00" y1="212.8" x2="670.00" y2="207.0" stroke="#111" stroke-width="1.4"/>
<line x1="400.4" y1="212.80" x2="406.2" y2="212.80" stroke="#111" stroke-width="1.4"/>
<line x1="400.4" y1="177.44" x2="406.2" y2="177.44" stroke="#111" stroke-width="1.4"/>
<line x1="400.4" y1="142.08" x2="406.2" y2="142.08" stroke="#111" stroke-width="1.4"/>
<line x1="400.4" y1="106.72" x2="406.2" y2="106.72" stroke="#111" stroke-width="1.4"/>
<line x1="400.4" y1="71.36" x2="406.2" y2="71.36" stroke="#111" stroke-width="1.4"/>
<line x1="400.4" y1="36.00" x2="406.2" y2="36.00" stroke="#111" stroke-width="1.4"/>
<line x1="47.10" y1="477.6" x2="47.10" y2="471.8" stroke="#111" stroke-width="1.4"/>
<line x1="101.02" y1="477.6" x2="101.02" y2="471.8" stroke="#111" stroke-width="1.4"/>
<line x1="154.94" y1="477.6" x2="154.94" y2="471.8" stroke="#111" stroke-width="1.4"/>
<line x1="208.86" y1="477.6" x2="208.86" y2="471.8" stroke="#111" stroke-width="1.4"/>
<line x1="262.78" y1="477.6" x2="262.78" y2="471.8" stroke="#111" stroke-width="1.4"/>
<line x1="316.70" y1="477.6" x2="316.70" y2="471.8" stroke="#111" stroke-width="1.4"/>
<line x1="47.1" y1="477.60" x2="52.9" y2="477.60" stroke="#111" stroke-width="1.4"/>
<line x1="47.1" y1="418.63" x2="52.9" y2="418.63" stroke="#111" stroke-width="1.4"/>
<line x1="47.1" y1="359.67" x2="52.9" y2="359.67" stroke="#111" stroke-width="1.4"/>
<line x1="47.1" y1="300.70" x2="52.9" y2="300.70" stroke="#111" stroke-width="1.4"/>
<line x1="400.40" y1="477.6" x2="400.40" y2="471.8" stroke="#111" stroke-width="1.4"/>
<line x1="454.32" y1="477.6" x2="454.32" y2="471.8" stroke="#111" stroke-width="1.4"/>
<line x1="508.24" y1="477.6" x2="508.24" y2="471.8" stroke="#111" stroke-width="1.4"/>
<line x1="562.16" y1="477.6" x2="562.16" y2="471.8" stroke="#111" stroke-width="1.4"/>
<line x1="616.08" y1="477.6" x2="616.08" y2="471.8" stroke="#111" stroke-width="1.4"/>
<line x1="670.00" y1="477.6" x2="670.00" y2="471.8" stroke="#111" stroke-width="1.4"/>
<line x1="400.4" y1="477.60" x2="406.2" y2="477.60" stroke="#111" stroke-width="1.4"/>
<line x1="400.4" y1="433.38" x2="406.2" y2="433.38" stroke="#111" stroke-width="1.4"/>
<line x1="400.4" y1="389.15" x2="406.2" y2="389.15" stroke="#111" stroke-width="1.4"/>
<line x1="400.4" y1="344.93" x2="406.2" y2="344.93" stroke="#111" stroke-width="1.4"/>
<line x1="400.4" y1="300.70" x2="406.2" y2="300.70" stroke="#111" stroke-width="1.4"/>
<text transform="translate(46.50,230.5) scale(0.975,1)" font-size="16.6" text-anchor="middle">0</text>
<text transform="translate(99.00,230.5) scale(0.975,1)" font-size="16.6" text-anchor="middle">1000</text>
<text transform="translate(152.70,230.5) scale(0.975,1)" font-size="16.6" text-anchor="middle">2000</text>
<text transform="translate(206.80,230.5) scale(0.975,1)" font-size="16.6" text-anchor="middle">3000</text>
<text transform="translate(260.80,230.5) scale(0.975,1)" font-size="16.6" text-anchor="middle">4000</text>
<text transform="translate(315.20,230.5) scale(0.975,1)" font-size="16.6" text-anchor="middle">5000</text>
<text transform="translate(399.90,230.5) scale(0.975,1)" font-size="16.6" text-anchor="middle">0</text>
<text transform="translate(452.60,230.5) scale(0.975,1)" font-size="16.6" text-anchor="middle">1000</text>
<text transform="translate(506.50,230.5) scale(0.975,1)" font-size="16.6" text-anchor="middle">2000</text>
<text transform="translate(560.40,230.5) scale(0.975,1)" font-size="16.6" text-anchor="middle">3000</text>
<text transform="translate(614.00,230.5) scale(0.975,1)" font-size="16.6" text-anchor="middle">4000</text>
<text transform="translate(668.40,230.5) scale(0.975,1)" font-size="16.6" text-anchor="middle">5000</text>
<text transform="translate(46.80,495.5) scale(0.975,1)" font-size="16.6" text-anchor="middle">0</text>
<text transform="translate(99.90,495.5) scale(0.975,1)" font-size="16.6" text-anchor="middle">100</text>
<text transform="translate(153.50,495.5) scale(0.975,1)" font-size="16.6" text-anchor="middle">200</text>
<text transform="translate(207.60,495.5) scale(0.975,1)" font-size="16.6" text-anchor="middle">300</text>
<text transform="translate(261.30,495.5) scale(0.975,1)" font-size="16.6" text-anchor="middle">400</text>
<text transform="translate(315.00,495.5) scale(0.975,1)" font-size="16.6" text-anchor="middle">500</text>
<text transform="translate(399.90,495.5) scale(0.975,1)" font-size="16.6" text-anchor="middle">0</text>
<text transform="translate(453.30,495.5) scale(0.975,1)" font-size="16.6" text-anchor="middle">100</text>
<text transform="translate(506.60,495.5) scale(0.975,1)" font-size="16.6" text-anchor="middle">200</text>
<text transform="translate(560.70,495.5) scale(0.975,1)" font-size="16.6" text-anchor="middle">300</text>
<text transform="translate(614.40,495.5) scale(0.975,1)" font-size="16.6" text-anchor="middle">400</text>
<text transform="translate(668.90,495.5) scale(0.975,1)" font-size="16.6" text-anchor="middle">500</text>
<text transform="translate(39.2,199.4) rotate(-90) scale(0.975,1)" font-size="16.6" text-anchor="middle">0</text>
<text transform="translate(39.2,142) rotate(-90) scale(0.975,1)" font-size="16.6" text-anchor="middle">1</text>
<text transform="translate(39.2,84) rotate(-90) scale(0.975,1)" font-size="16.6" text-anchor="middle">2</text>
<text transform="translate(39.2,36.3) rotate(-90) scale(0.975,1)" font-size="16.6" text-anchor="middle">3</text>
<text transform="translate(391.9,210.2) rotate(-90) scale(0.975,1)" font-size="16.6" text-anchor="middle">0</text>
<text transform="translate(391.9,177.8) rotate(-90) scale(0.975,1)" font-size="16.6" text-anchor="middle">1</text>
<text transform="translate(391.9,142.6) rotate(-90) scale(0.975,1)" font-size="16.6" text-anchor="middle">2</text>
<text transform="translate(391.9,106) rotate(-90) scale(0.975,1)" font-size="16.6" text-anchor="middle">3</text>
<text transform="translate(391.9,71.2) rotate(-90) scale(0.975,1)" font-size="16.6" text-anchor="middle">4</text>
<text transform="translate(391.9,36) rotate(-90) scale(0.975,1)" font-size="16.6" text-anchor="middle">5</text>
<text transform="translate(39.2,464.2) rotate(-90) scale(0.975,1)" font-size="16.6" text-anchor="middle">0</text>
<text transform="translate(39.2,407) rotate(-90) scale(0.975,1)" font-size="16.6" text-anchor="middle">3</text>
<text transform="translate(39.2,348.8) rotate(-90) scale(0.975,1)" font-size="16.6" text-anchor="middle">6</text>
<text transform="translate(39.2,301.9) rotate(-90) scale(0.975,1)" font-size="16.6" text-anchor="middle">9</text>
<text transform="translate(391.9,477.9) rotate(-90) scale(0.975,1)" font-size="16.6" text-anchor="middle">0</text>
<text transform="translate(391.9,435.9) rotate(-90) scale(0.975,1)" font-size="16.6" text-anchor="middle">4</text>
<text transform="translate(391.9,392) rotate(-90) scale(0.975,1)" font-size="16.6" text-anchor="middle">8</text>
<text transform="translate(391.9,344.9) rotate(-90) scale(0.975,1)" font-size="16.6" text-anchor="middle">12</text>
<text transform="translate(391.9,300.6) rotate(-90) scale(0.975,1)" font-size="16.6" text-anchor="middle">16</text>
</svg></body></html>
